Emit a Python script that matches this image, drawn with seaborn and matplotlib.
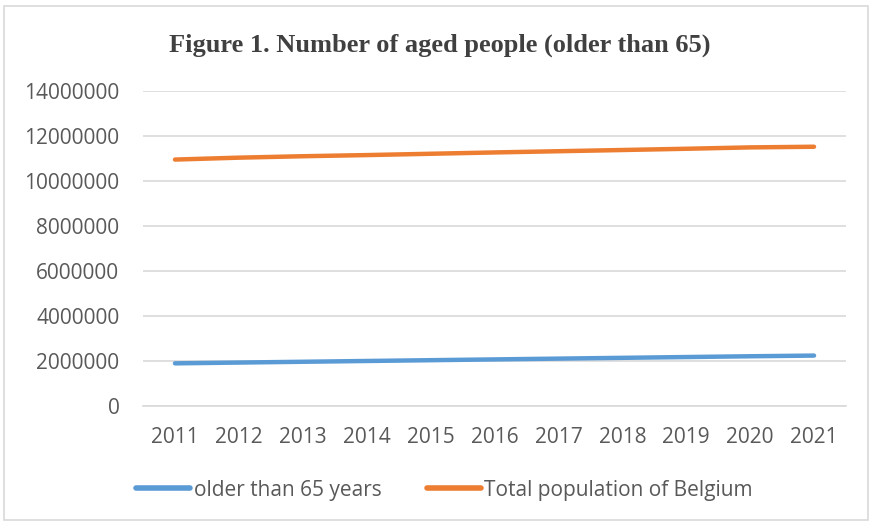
import matplotlib
matplotlib.use("Agg")
import matplotlib.pyplot as plt
import seaborn as sns
import pandas as pd
from matplotlib.patches import Rectangle

years = ["2011", "2012", "2013", "2014", "2015", "2016", "2017", "2018", "2019", "2020", "2021"]
older_65 = [1890000, 1925000, 1960000, 1995000, 2030000, 2065000, 2100000, 2135000, 2170000, 2205000, 2235000]
total_pop = [10951266, 11035948, 11099554, 11150516, 11209044, 11267910, 11322088, 11376070, 11431406, 11492641, 11521238]
series_names = ["older than 65 years", "Total population of Belgium"]
yticks = [0, 2000000, 4000000, 6000000, 8000000, 10000000, 12000000, 14000000]
title = "Figure 1. Number of aged people (older than 65)"

df = pd.DataFrame({
    "year": years * 2,
    "value": older_65 + total_pop,
    "series": [series_names[0]] * len(years) + [series_names[1]] * len(years),
})
df["x"] = list(range(len(years))) * 2

sns.set_theme(style="white")
plt.rcParams["font.family"] = ["Open Sans", "DejaVu Sans"]

fig = plt.figure(figsize=(8.7, 5.23), dpi=100)
ax = fig.add_axes([0.1644, 0.224, 0.808, 0.602])

sns.lineplot(data=df, x="x", y="value", hue="series",
             palette=["#5b9bd5", "#ed7d31"], linewidth=3.2, ax=ax,
             legend=True, solid_capstyle="round")

ax.set_xlim(-0.5, len(years) - 0.5)
ax.set_ylim(0, 14000000)
ax.set_yticks(yticks)
ax.set_yticklabels([str(v) for v in yticks])
ax.set_xticks(range(len(years)))
ax.set_xticklabels(years)
ax.yaxis.grid(True, color="#d9d9d9", linewidth=1.2)
ax.set_axisbelow(True)
for s in ["top", "right", "left"]:
    ax.spines[s].set_visible(False)
ax.spines["bottom"].set_color("#d9d9d9")
ax.spines["bottom"].set_linewidth(1.2)
ax.tick_params(axis="both", length=0, labelsize=15, colors="#595959")
ax.tick_params(axis="y", pad=17)
ax.tick_params(axis="x", pad=15.5)
ax.set_xlabel("")
ax.set_ylabel("")

fig.text(0.505, 0.913, title, ha="center", va="center", fontsize=19,
         fontweight="bold", family=["Liberation Serif", "DejaVu Serif"], color="#404040")

handles, labels = ax.get_legend_handles_labels()
ax.legend_.remove()
leg = fig.legend(handles, labels, loc="center", bbox_to_anchor=(0.511, 0.063),
                 ncol=2, frameon=False, fontsize=15, handlelength=2.6,
                 handletextpad=0.15, columnspacing=2.2, labelcolor="#595959")
for h in leg.get_lines():
    h.set_linewidth(4)
    h.set_solid_capstyle("round")

fig.patches.append(Rectangle((0.005, 0.006), 0.993, 0.982, transform=fig.transFigure,
                             fill=False, edgecolor="#d9d9d9", linewidth=1.2))

fig.savefig("out.png", dpi=100)
